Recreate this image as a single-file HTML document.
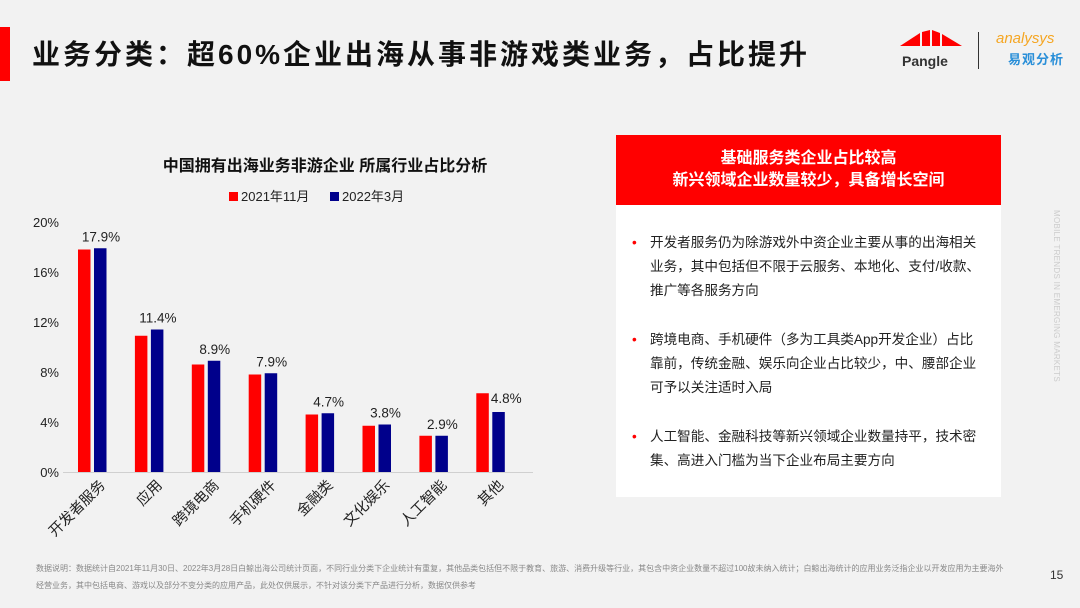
<!DOCTYPE html>
<html><head><meta charset="utf-8"><style>
body{margin:0;width:1080px;height:608px;background:#f2f2f2;font-family:"Liberation Sans","Noto Sans CJK SC",sans-serif;position:relative;overflow:hidden}
.abs{position:absolute}
</style></head><body>
<div class="abs" style="left:0;top:27px;width:10px;height:54px;background:#f00"></div>
<div class="abs" style="left:32px;top:33px;font-size:28px;font-weight:bold;color:#111;white-space:nowrap;letter-spacing:3px">业务分类：超60%企业出海从事非游戏类业务，占比提升</div>
<div class="abs" style="left:900px;top:30px;width:62px;height:40px">
<svg width="62" height="20" viewBox="0 0 62 20"><polygon points="0,16 20,3 20,16" fill="#f00"/><polygon points="22,2 30,0 30,16 22,16" fill="#f00"/><polygon points="32,0 40,3 40,16 32,16" fill="#f00"/><polygon points="42,4 62,16 42,16" fill="#f00"/></svg>
<div style="font-size:14px;font-weight:bold;color:#333;margin-top:-2px;padding-left:2px">Pangle</div></div>
<div class="abs" style="left:978px;top:32px;width:1px;height:37px;background:#333"></div>
<div class="abs" style="left:996px;top:30px;color:#f5a623;font-size:15px;font-style:italic">analysys</div>
<div class="abs" style="left:1008px;top:49px;color:#2a8fd8;font-size:13px;font-weight:bold;letter-spacing:1px">易观分析</div>

<svg class="abs" style="left:0;top:0" width="600" height="545">
<text x="325" y="171" text-anchor="middle" font-size="16" font-weight="bold" fill="#111">中国拥有出海业务非游企业  所属行业占比分析</text>
<g>
<rect x="229" y="192" width="9" height="9" fill="#f00"/><text x="241" y="201" font-size="13" fill="#222">2021年11月</text>
<rect x="330" y="192" width="9" height="9" fill="#00008b"/><text x="342" y="201" font-size="13" fill="#222">2022年3月</text>
</g>
<g id="chart"></g>
</svg>
<script>
const categories=["开发者服务","应用","跨境电商","手机硬件","金融类","文化娱乐","人工智能","其他"];
const series2021=[17.8,10.9,8.6,7.8,4.6,3.7,2.9,6.3];
const series2022=[17.9,11.4,8.9,7.9,4.7,3.8,2.9,4.8];
const valueLabels=["17.9%","11.4%","8.9%","7.9%","4.7%","3.8%","2.9%","4.8%"];
const yTicks=[0,4,8,12,16,20];
const NS="http://www.w3.org/2000/svg";
const g=document.getElementById('chart');
const y=v=>472-v*12.5;
const x=i=>92+i*56.9;
function mk(t,a,txt){const e=document.createElementNS(NS,t);for(const k in a)e.setAttribute(k,a[k]);if(txt!==undefined)e.textContent=txt;g.appendChild(e);return e;}
yTicks.forEach(v=>{const e=mk('text',{x:59,y:y(v)+5,'text-anchor':'end','font-size':13,fill:'#222'},v+'%');

});
const ax=mk('line',{x1:63,x2:533,y1:472.5,y2:472.5,stroke:'#d0d0d0','stroke-width':1});


categories.forEach((c,i)=>{
 const cx=x(i);
 const r=mk('rect',{x:cx-14,y:y(series2021[i]),width:12.5,height:series2021[i]*12.5,fill:'#f00'});
 
 
 const b=mk('rect',{x:cx+2,y:y(series2022[i]),width:12.5,height:series2022[i]*12.5,fill:'#00008b'});
 
 
 const lx=i===7?cx+16:cx+9;
 const ly=i===7?y(series2022[i])-14:y(series2022[i])-12;
 const l=mk('text',{x:lx,y:ly+5,'text-anchor':'middle','font-size':13.5,fill:'#222'},valueLabels[i]);
 
 
 const t=mk('text',{x:cx+14,y:486,'text-anchor':'end','font-size':14.5,fill:'#222',transform:`rotate(-45 ${cx+14} 486)`},c);
 
 
});
</script>

<div class="abs" style="left:616px;top:135px;width:385px;height:362px;background:#fff">
<div style="height:70px;background:#f00;color:#fff;font-weight:bold;font-size:16px;text-align:center;line-height:22px;padding-top:13px;box-sizing:border-box">基础服务类企业占比较高<br>新兴领域企业数量较少，具备增长空间</div>
<div style="padding:26px 0 0 34px;font-size:13.6px;color:#222;line-height:24px;width:336px">
<div style="position:relative;margin-bottom:25px"><span style="position:absolute;left:-18px;color:#f00">•</span>开发者服务仍为除游戏外中资企业主要从事的出海相关业务，其中包括但不限于云服务、本地化、支付/收款、推广等各服务方向</div>
<div style="position:relative;margin-bottom:25px"><span style="position:absolute;left:-18px;color:#f00">•</span>跨境电商、手机硬件（多为工具类App开发企业）占比靠前，传统金融、娱乐向企业占比较少，中、腰部企业可予以关注适时入局</div>
<div style="position:relative"><span style="position:absolute;left:-18px;color:#f00">•</span>人工智能、金融科技等新兴领域企业数量持平，技术密集、高进入门槛为当下企业布局主要方向</div>
</div></div>
<div class="abs" style="left:1052px;top:210px;writing-mode:vertical-rl;font-size:8px;color:#ccc;letter-spacing:0.3px">MOBILE TRENDS IN EMERGING MARKETS</div>
<div class="abs" style="left:36px;top:560px;width:975px;font-size:8px;color:#888;line-height:17px">数据说明：数据统计自2021年11月30日、2022年3月28日白鲸出海公司统计页面，不同行业分类下企业统计有重复，其他品类包括但不限于教育、旅游、消费升级等行业，其包含中资企业数量不超过100故未纳入统计；白鲸出海统计的应用业务泛指企业以开发应用为主要海外经营业务，其中包括电商、游戏以及部分不变分类的应用产品，此处仅供展示，不针对该分类下产品进行分析，数据仅供参考</div>
<div class="abs" style="left:1050px;top:568px;font-size:12px;color:#333">15</div>
</body></html>
